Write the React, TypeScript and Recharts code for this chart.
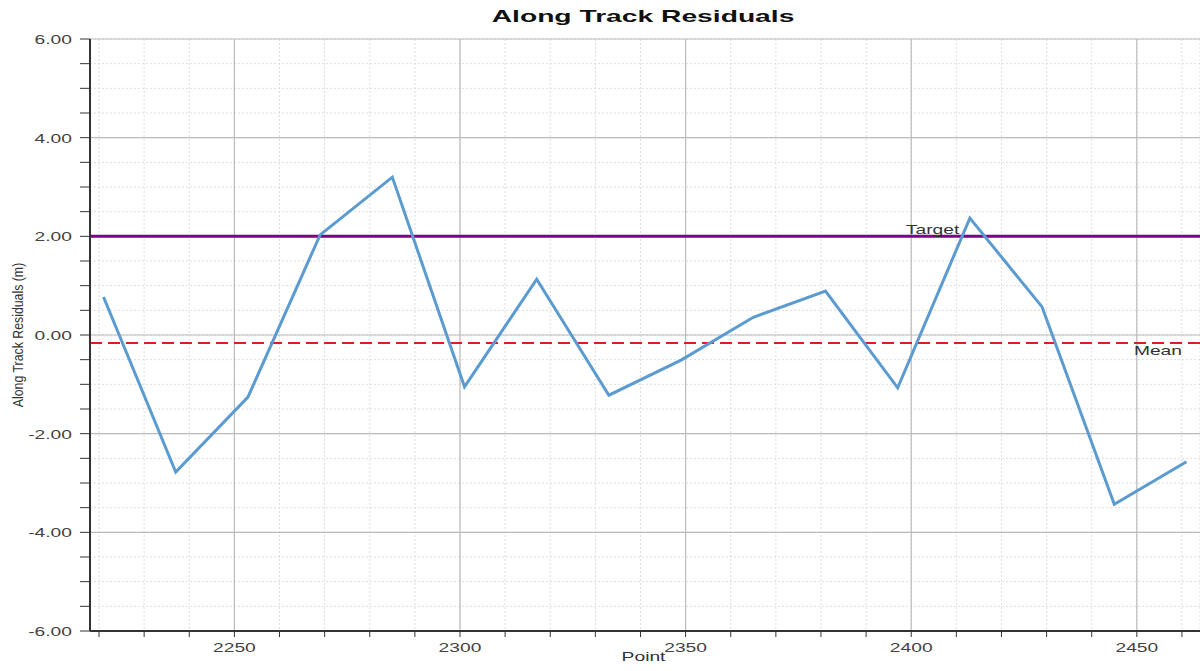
import { LineChart, Line, XAxis, YAxis, CartesianGrid, ReferenceLine } from 'recharts';

const points = [2221, 2237, 2253, 2269, 2285, 2301, 2317, 2333, 2349, 2365, 2381, 2397, 2413, 2429, 2445, 2461];
const residuals = [0.77, -2.78, -1.26, 2.03, 3.2, -1.05, 1.13, -1.22, -0.51, 0.36, 0.89, -1.07, 2.37, 0.57, -3.43, -2.57];
const target = 2;
const mean = residuals.reduce((a, b) => a + b, 0) / residuals.length;

const xTicks = [2220, 2230, 2240, 2250, 2260, 2270, 2280, 2290, 2300, 2310, 2320, 2330, 2340, 2350, 2360, 2370, 2380, 2390, 2400, 2410, 2420, 2430, 2440, 2450, 2460];
const xMajor = [2250, 2300, 2350, 2400, 2450];
const yTicks = [-6, -5.5, -5, -4.5, -4, -3.5, -3, -2.5, -2, -1.5, -1, -0.5, 0, 0.5, 1, 1.5, 2, 2.5, 3, 3.5, 4, 4.5, 5, 5.5, 6];
const yMajor = [-6, -4, -2, 0, 2, 4, 6];

const data = points.map((p, i) => ({ point: p, value: residuals[i] }));

const font = 'Liberation Sans, Arial, sans-serif';
const stretch = 1.48;

const XTick = (props: any) => {
    const { x, y, payload } = props;
    if (payload.value % 50 !== 0) return null;
    return (
        <text transform={`translate(${x},${y + 13}) scale(${stretch},1)`} textAnchor="middle" fontSize={13} fill="#444" fontFamily={font}>
            {payload.value}
        </text>
    );
};

const YTick = (props: any) => {
    const { x, y, payload } = props;
    if (payload.value % 2 !== 0) return null;
    return (
        <text transform={`translate(${x - 6},${y + 5}) scale(${stretch},1)`} textAnchor="end" fontSize={13} fill="#444" fontFamily={font}>
            {payload.value.toFixed(2)}
        </text>
    );
};

const TargetLabel = (props: any) => {
    const { viewBox } = props;
    return (
        <text transform={`translate(${viewBox.x + viewBox.width * 0.735},${viewBox.y - 2}) scale(${stretch},1)`} fontSize={13} fill="#333" fontFamily={font}>
            Target
        </text>
    );
};

const MeanLabel = (props: any) => {
    const { viewBox } = props;
    return (
        <text transform={`translate(${viewBox.x + viewBox.width - 18},${viewBox.y + 12}) scale(${stretch},1)`} fontSize={13} fill="#333" fontFamily={font} textAnchor="end">
            Mean
        </text>
    );
};

export default function App() {
    return (
        <div style={{ position: 'absolute', left: 0, top: 0, width: 1200, height: 671, background: '#fff', fontFamily: font }}>
            <div style={{ position: 'absolute', left: 90, width: 1110, top: 7, textAlign: 'center', fontWeight: 'bold', fontSize: 17, color: '#111', transform: 'scaleX(1.66)', transformOrigin: '558px 0' }}>
                Along Track Residuals
            </div>
            <div style={{ position: 'absolute', left: 90, width: 1110, top: 649, textAlign: 'center', fontSize: 13, color: '#333', transform: `scaleX(${stretch})`, transformOrigin: '558px 0' }}>
                Point
            </div>
            <div style={{ position: 'absolute', left: 18, top: 335, transform: 'translate(-50%, -50%) rotate(-90deg) scaleX(0.88)', fontSize: 14, color: '#333', whiteSpace: 'nowrap', fontFamily: font }}>
                Along Track Residuals (m)
            </div>
            <LineChart width={1200} height={671} data={data} margin={{ top: 39, right: 0, bottom: 0, left: 0 }} style={{ position: 'absolute', left: 0, top: 0 }}>
                <CartesianGrid stroke="#ddd" strokeDasharray="2 2" />
                {xMajor.map((x) => (
                    <ReferenceLine key={`vx-${x}`} x={x} stroke="#bbb" strokeWidth={1.2} />
                ))}
                {yMajor.map((y) => (
                    <ReferenceLine key={`hy-${y}`} y={y} stroke="#bbb" strokeWidth={1.2} />
                ))}
                <XAxis
                    dataKey="point"
                    type="number"
                    domain={[2218, 2464]}
                    ticks={xTicks}
                    interval={0}
                    height={40}
                    allowDataOverflow
                    tick={<XTick />}
                    tickSize={6}
                    axisLine={{ stroke: '#333', strokeWidth: 2 }}
                    tickLine={{ stroke: '#333' }}
                />
                <YAxis
                    type="number"
                    domain={[-6, 6]}
                    ticks={yTicks}
                    interval={0}
                    width={90}
                    allowDataOverflow
                    tick={<YTick />}
                    tickSize={10}
                    axisLine={{ stroke: '#333', strokeWidth: 2 }}
                    tickLine={{ stroke: '#333' }}
                />
                <ReferenceLine y={target} stroke="#800080" strokeWidth={3} label={<TargetLabel />} />
                <ReferenceLine y={mean} stroke="#e41a1c" strokeWidth={2} strokeDasharray="12 6" label={<MeanLabel />} />
                <Line
                    type="linear"
                    dataKey="value"
                    stroke="#5b9bd0"
                    strokeWidth={3}
                    dot={false}
                    isAnimationActive={false}
                />
            </LineChart>
        </div>
    );
}
